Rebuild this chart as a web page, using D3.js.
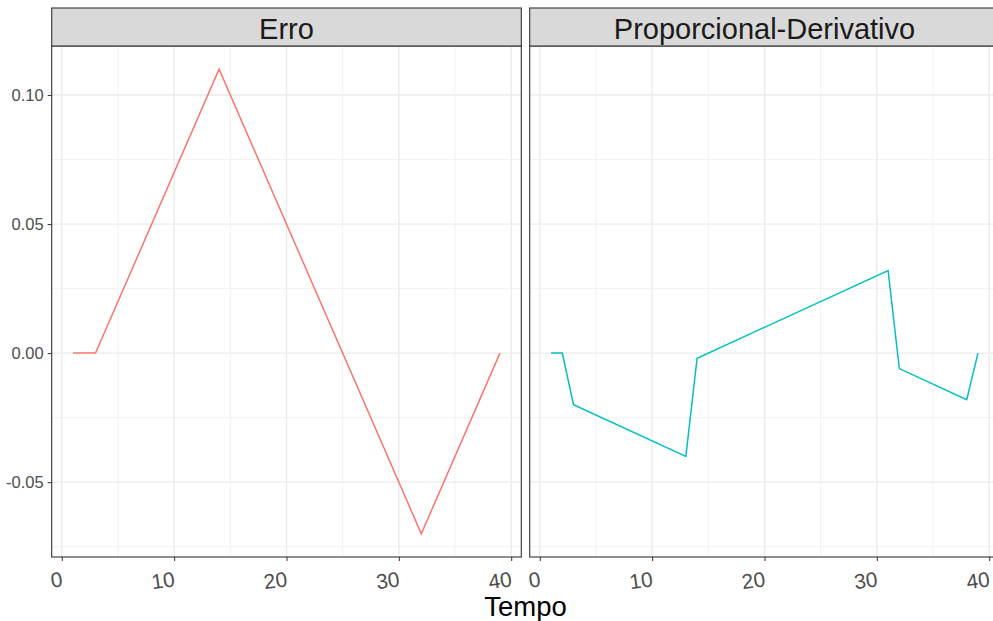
<!DOCTYPE html>
<html>
<head>
<meta charset="utf-8">
<script src="https://cdn.jsdelivr.net/npm/d3@7"></script>
<style>
  body { margin: 0; background: #fff; }
  text { font-family: "Liberation Sans", Arial, sans-serif; }
</style>
</head>
<body>
<script>
// données
const paineis = ["Erro", "Proporcional-Derivativo"];
const tempoErro = [1, 3, 14, 32, 39];
const valoresErro = [0, 0, 0.11, -0.07, 0];
const tempoPD = [1, 2, 3, 13, 14, 31, 32, 38, 39];
const valoresPD = [0, 0, -0.02, -0.04, -0.002, 0.032, -0.006, -0.018, 0];
const coresSerie = ["#F8766D", "#00BFC4"];
const ticksX = [0, 10, 20, 30, 40];
const ticksXMenor = [5, 15, 25, 35];
const ticksY = [-0.05, 0, 0.05, 0.10];
const ticksYMenor = [-0.075, -0.025, 0.025, 0.075];

const series = [
  tempoErro.map((t, i) => ({ t, v: valoresErro[i] })),
  tempoPD.map((t, i) => ({ t, v: valoresPD[i] }))
];

const largura = 993, altura = 621;
const svg = d3.select("body").append("svg")
  .attr("width", largura)
  .attr("height", altura);

// géométrie des panneaux
const topoFaixa = 8, topoPainel = 46, basePainel = 557;
const larguraPainel = 469.6, espaco = 8.4;
const esquerdas = [51.7, 51.7 + larguraPainel + espaco];

const y = d3.scaleLinear()
  .domain([-0.079, 0.119])
  .range([basePainel, topoPainel]);

// tiret simple comme dans R
const fmtY = d => d3.format(".2f")(d).replace("\u2212", "-");

// axe y (seulement à gauche)
const eixoY = svg.append("g")
  .attr("transform", `translate(${esquerdas[0]},0)`)
  .call(d3.axisLeft(y).tickValues(ticksY).tickSize(4).tickPadding(4)
    .tickFormat(fmtY));
eixoY.select(".domain").remove();
eixoY.selectAll("line").attr("stroke", "#333");
eixoY.selectAll("text")
  .attr("fill", "#4D4D4D")
  .style("font-size", "16.5px")
  .style("font-family", "'Liberation Sans', Arial, sans-serif");

paineis.forEach((nome, k) => {
  const x0 = esquerdas[k];
  const x = d3.scaleLinear()
    .domain([-0.9, 40.9])
    .range([x0, x0 + larguraPainel]);

  const g = svg.append("g");

  // grille mineure
  g.selectAll(".gxm").data(ticksXMenor).enter().append("line")
    .attr("x1", d => x(d)).attr("x2", d => x(d))
    .attr("y1", topoPainel).attr("y2", basePainel)
    .attr("stroke", "#F0F0F0").attr("stroke-width", 0.9);
  g.selectAll(".gym").data(ticksYMenor).enter().append("line")
    .attr("x1", x0).attr("x2", x0 + larguraPainel)
    .attr("y1", d => y(d)).attr("y2", d => y(d))
    .attr("stroke", "#F0F0F0").attr("stroke-width", 0.9);
  // grille majeure
  g.selectAll(".gx").data(ticksX).enter().append("line")
    .attr("x1", d => x(d)).attr("x2", d => x(d))
    .attr("y1", topoPainel).attr("y2", basePainel)
    .attr("stroke", "#EBEBEB").attr("stroke-width", 1.4);
  g.selectAll(".gy").data(ticksY).enter().append("line")
    .attr("x1", x0).attr("x2", x0 + larguraPainel)
    .attr("y1", d => y(d)).attr("y2", d => y(d))
    .attr("stroke", "#EBEBEB").attr("stroke-width", 1.4);

  // la courbe
  const linha = d3.line().x(d => x(d.t)).y(d => y(d.v));
  g.append("path")
    .datum(series[k])
    .attr("d", linha)
    .attr("fill", "none")
    .attr("stroke", coresSerie[k])
    .attr("stroke-width", 1.5);

  // bordure du panneau
  g.append("rect")
    .attr("x", x0).attr("y", topoPainel)
    .attr("width", larguraPainel).attr("height", basePainel - topoPainel)
    .attr("fill", "none").attr("stroke", "#333").attr("stroke-width", 1.1);

  // bandeau
  g.append("rect")
    .attr("x", x0).attr("y", topoFaixa)
    .attr("width", larguraPainel).attr("height", topoPainel - topoFaixa)
    .attr("fill", "#D9D9D9").attr("stroke", "#333").attr("stroke-width", 1.1);
  g.append("text")
    .attr("x", x0 + larguraPainel / 2)
    .attr("y", 38.5)
    .attr("text-anchor", "middle")
    .attr("fill", "#1A1A1A")
    .style("font-size", "29px")
    .text(nome);

  // axe x
  const eixoX = g.append("g")
    .attr("transform", `translate(0,${basePainel})`)
    .call(d3.axisBottom(x).tickValues(ticksX).tickSize(4).tickFormat(d3.format("d")));
  eixoX.select(".domain").remove();
  eixoX.selectAll("line").attr("stroke", "#333");
  eixoX.selectAll("text")
    .attr("fill", "#4D4D4D")
    .attr("y", 29)
    .attr("x", 1)
    .attr("dy", 0)
    .attr("text-anchor", "end")
    .attr("transform", "rotate(-8, 1, 29)")
    .style("font-size", "21px")
    .style("font-family", "'Liberation Sans', Arial, sans-serif");
});

// titre de l'axe x
svg.append("text")
  .attr("x", (esquerdas[0] + esquerdas[1] + larguraPainel) / 2)
  .attr("y", 616)
  .attr("text-anchor", "middle")
  .attr("fill", "#000")
  .style("font-size", "27.5px")
  .text("Tempo");
</script>
</body>
</html>
